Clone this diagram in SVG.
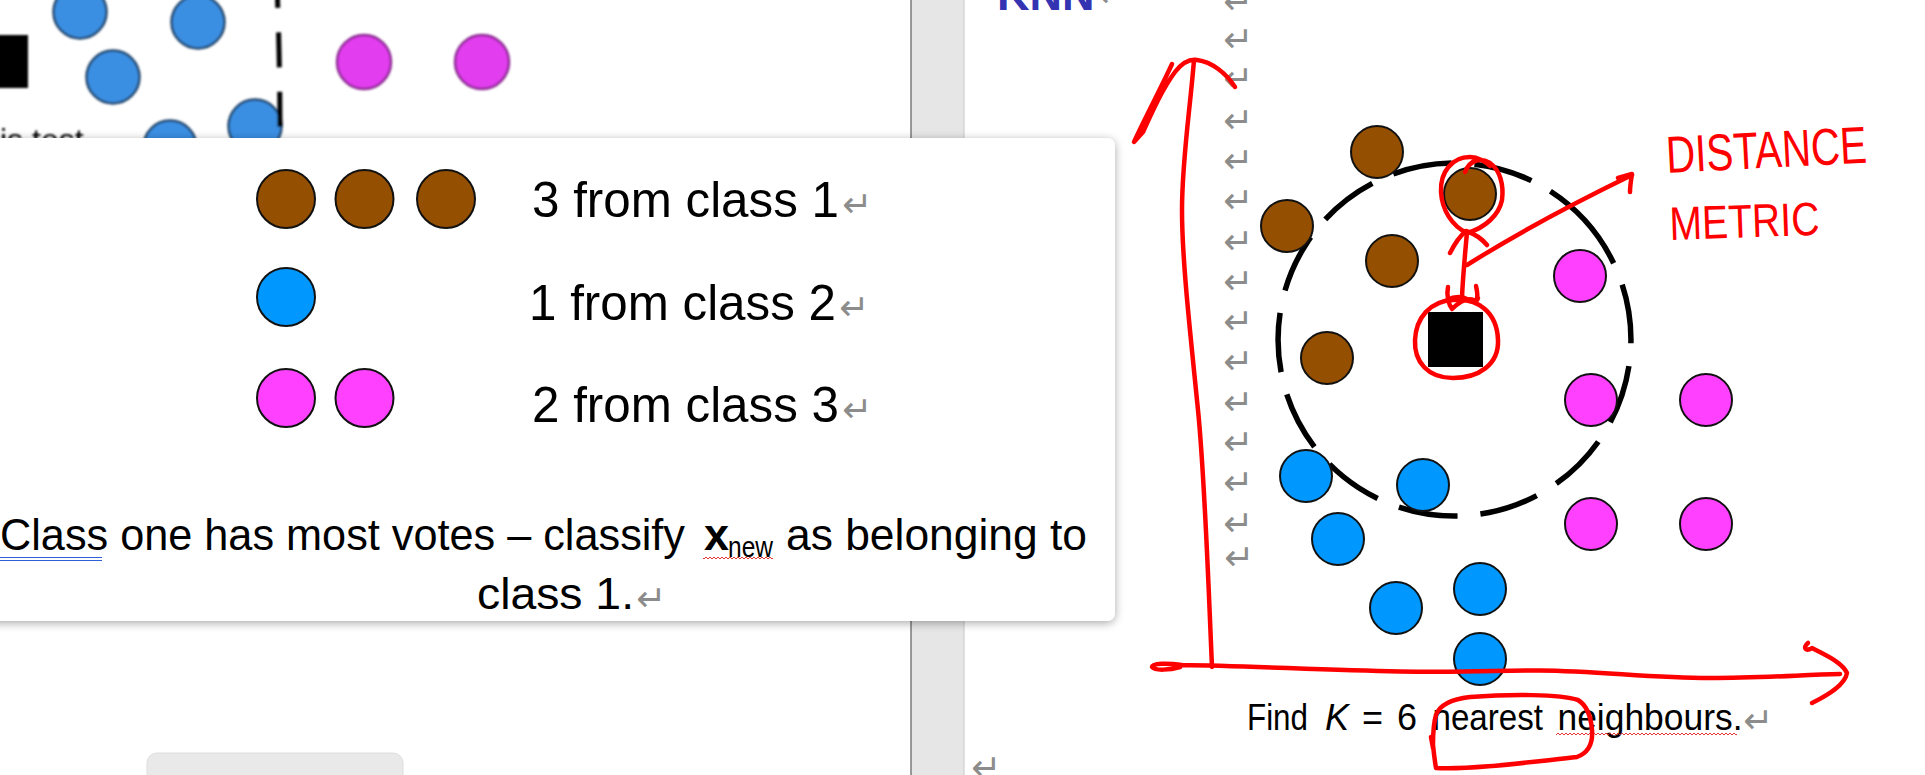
<svg xmlns="http://www.w3.org/2000/svg" width="1925" height="775" viewBox="0 0 1925 775">
<defs>
<filter id="soft" x="-10%" y="-10%" width="120%" height="120%"><feGaussianBlur stdDeviation="0.9"/></filter>
<filter id="shadow" x="-5%" y="-10%" width="110%" height="125%">
<feGaussianBlur in="SourceAlpha" stdDeviation="5"/><feOffset dx="0" dy="2"/>
<feComponentTransfer><feFuncA type="linear" slope="0.35"/></feComponentTransfer>
<feMerge><feMergeNode/><feMergeNode in="SourceGraphic"/></feMerge></filter>
<pattern id="wavy" width="4" height="4" patternUnits="userSpaceOnUse"><path d="M0,3 L2,1 L4,3" fill="none" stroke="#e02020" stroke-width="0.9"/></pattern>
</defs>
<style>
.txt{font-family:"Liberation Sans",Arial,sans-serif;fill:#000}
.pm{font-family:"DejaVu Sans",sans-serif;fill:#8c8c8c;font-size:36px}
.brown{fill:#954f00;stroke:#111;stroke-width:2}
.blue{fill:#0098fe;stroke:#111;stroke-width:2}
.mag{fill:#ff41ff;stroke:#111;stroke-width:2}
.oblue{fill:#3b8fe3;stroke:#23466d;stroke-width:2.5}
.omag{fill:#e23cef;stroke:#8c2c93;stroke-width:2.5}
.red{fill:none;stroke:#ff0000;stroke-width:4.5;stroke-linecap:round;stroke-linejoin:round}
.hand{font-family:"Liberation Sans",Arial,sans-serif;fill:#ff0000}
</style>
<rect x="0" y="0" width="1925" height="775" fill="#ffffff"/>

<!-- slide behind popup (top-left, blurred) -->
<g id="behind-slide" filter="url(#soft)">
<circle class="oblue" cx="80" cy="12" r="26.5"/>
<circle class="oblue" cx="198" cy="22" r="26.5"/>
<circle class="oblue" cx="113" cy="77" r="26.5"/>
<circle class="oblue" cx="255" cy="126" r="26.5"/>
<circle class="oblue" cx="170" cy="147" r="26.5"/>
<rect x="-5" y="35" width="33" height="53" fill="#000"/>
<path d="M276.5,-27 Q280,55 280,140" fill="none" stroke="#000" stroke-width="5" stroke-dasharray="35 24.5"/>
<circle class="omag" cx="364" cy="62" r="27"/>
<circle class="omag" cx="482" cy="62" r="27"/>
<text class="txt" x="0" y="151" font-size="32">is test</text>
</g>

<!-- window gray band -->
<g id="window-band">
<rect x="911" y="0" width="53" height="775" fill="#e6e6e6"/>
<line x1="911" y1="0" x2="911" y2="775" stroke="#7a7a7a" stroke-width="1.5"/>
<line x1="964" y1="0" x2="964" y2="775" stroke="#c8c8c8" stroke-width="1"/>
</g>

<!-- right document page -->
<g id="doc-heading">
<text x="997" y="10" font-family="Liberation Sans, Arial, sans-serif" font-weight="bold" font-size="45" fill="#3434b2">KNN</text>
<text class="pm" x="1097" y="7">↵</text>
</g>
<g id="paragraph-marks">
<text class="pm" x="1223" y="13.5">↵</text>
<text class="pm" x="1223" y="52">↵</text>
<text class="pm" x="1223" y="90.5">↵</text>
<text class="pm" x="1223" y="132.5">↵</text>
<text class="pm" x="1223" y="173">↵</text>
<text class="pm" x="1223" y="213">↵</text>
<text class="pm" x="1223" y="253.5">↵</text>
<text class="pm" x="1223" y="293.5">↵</text>
<text class="pm" x="1223" y="333.5">↵</text>
<text class="pm" x="1223" y="373.5">↵</text>
<text class="pm" x="1223" y="414.5">↵</text>
<text class="pm" x="1223" y="455">↵</text>
<text class="pm" x="1223" y="495">↵</text>
<text class="pm" x="1223" y="535.5">↵</text>
<text class="pm" x="1224" y="570" font-size="29">↵</text>
<text class="pm" x="971" y="780">↵</text>
</g>

<!-- dashed neighbourhood circle -->
<g id="neighbourhood">
<path d="M1550.4,191.3 A176.5,176.5 0 0 1 1358.6,487.7 A176.5,176.5 0 0 1 1550.4,191.3" fill="none" stroke="#000" stroke-width="5.5" stroke-dasharray="97 22.95 59.5 22.95 59.5 22.95 59.5 22.95 59.5 22.95 59.5 22.95 59.5 22.95 59.5 22.95 59.5 22.95 59.5 22.95 59.5 22.95 59.5 22.95 59.5 22.95"/>
</g>

<!-- data points -->
<g id="class1-points">
<circle class="brown" cx="1377" cy="152" r="26"/>
<circle class="brown" cx="1287" cy="226" r="26"/>
<circle class="brown" cx="1470" cy="194" r="26"/>
<circle class="brown" cx="1392" cy="261" r="26"/>
<circle class="brown" cx="1327" cy="358" r="26"/>
</g>
<g id="class2-points">
<circle class="blue" cx="1306" cy="476" r="26"/>
<circle class="blue" cx="1423" cy="485" r="26"/>
<circle class="blue" cx="1338" cy="539" r="26"/>
<circle class="blue" cx="1396" cy="608" r="26"/>
<circle class="blue" cx="1480" cy="589" r="26"/>
<circle class="blue" cx="1480" cy="659" r="26"/>
</g>
<g id="class3-points">
<circle class="mag" cx="1580" cy="276" r="26"/>
<circle class="mag" cx="1591" cy="400" r="26"/>
<circle class="mag" cx="1706" cy="400" r="26"/>
<circle class="mag" cx="1591" cy="524" r="26"/>
<circle class="mag" cx="1706" cy="524" r="26"/>
</g>
<g id="x-new">
<rect x="1428" y="312" width="55" height="55" fill="#000"/>
</g>

<!-- caption -->
<g id="caption-right">
<text class="txt" font-size="36" y="730"><tspan x="1247" textLength="61" lengthAdjust="spacingAndGlyphs">Find</tspan><tspan x="1325" font-style="italic">K</tspan><tspan x="1362">=</tspan><tspan x="1397">6</tspan><tspan x="1432.5" textLength="110.5" lengthAdjust="spacingAndGlyphs">nearest</tspan><tspan x="1557.5" textLength="185" lengthAdjust="spacingAndGlyphs">neighbours.</tspan></text>
<text class="pm" x="1743" y="733" font-size="40">↵</text>
<rect x="1556" y="733" width="181" height="4" fill="url(#wavy)"/>
</g>

<!-- red hand annotations -->
<g id="annotations">
<path class="red" d="M1212,667 C1209,600 1205,480 1198,410 C1190,330 1182,260 1182,210 C1182,160 1190,110 1194,60"/>
<path class="red" d="M1172,64 C1160,90 1145,118 1134,142 L1143,132 C1153,110 1163,88 1175,72 C1182,63 1190,59 1197,60 C1212,62 1226,73 1235,87"/>
<path class="red" d="M1180,667 C1170,670 1155,671 1152,667 C1152,663 1168,663 1182,665 C1250,666 1320,670 1400,671.5 C1470,673 1500,670 1540,670.5 C1600,671 1650,678 1710,678 C1760,678 1800,675 1840,674"/>
<path class="red" d="M1808,643 C1802,648 1806,652 1812,648 C1825,655 1842,662 1847,673 C1845,685 1828,695 1812,703"/>
<path class="red" stroke-width="3.5" d="M1465,172 C1470,160 1480,157 1490,163 C1500,170 1504,185 1502,200 C1499,215 1485,228 1467,233 C1452,226 1442,210 1441,192 C1440,172 1452,157 1470,157 C1478,157 1486,162 1490,166"/>
<path class="red" stroke-width="3.5" d="M1450,253 C1455,243 1460,236 1466,231 C1475,234 1482,239 1487,245"/>
<path class="red" stroke-width="3.5" d="M1467,232 C1465,255 1463,275 1462,297"/>
<path class="red" stroke-width="3" d="M1448,287 C1446,296 1449,305 1452,309 C1458,303 1466,297 1474,300 C1478,303 1478,295 1476,286 M1447,300 C1455,296 1462,296 1469,300 C1472,303 1477,302 1478,298"/>
<path class="red" stroke-width="3.5" d="M1453,300 C1478,298 1497,312 1498,340 C1499,365 1478,378 1453,378 C1428,378 1414,362 1415,340 C1416,318 1430,301 1453,300 Z"/>
<path class="red" stroke-width="3.5" d="M1467,265 C1510,238 1570,205 1632,175 M1618,178 L1632,174 C1631,180 1630,186 1630,192"/>
<path class="red" stroke-width="6" d="M1431,737 L1433,748 M1436,768 C1470,770 1530,762 1577,757 C1590,752 1593,742 1592,730 C1591,718 1588,706 1578,700 C1560,694 1510,694 1470,697 C1452,699 1440,704 1436,715 C1433,725 1433,735 1433,745 C1434,755 1435,762 1436,768"/>
<text class="hand" x="1667" y="173" font-size="52" textLength="201" lengthAdjust="spacingAndGlyphs" transform="rotate(-3 1667 173)">DISTANCE</text>
<text class="hand" x="1670" y="240" font-size="47" textLength="150" lengthAdjust="spacingAndGlyphs" transform="rotate(-2 1670 240)">METRIC</text>
</g>

<!-- popup slide -->
<g id="popup">
<rect x="-20" y="138" width="1135" height="483" rx="8" fill="#ffffff" filter="url(#shadow)"/>
</g>
<g id="legend-class1">
<circle class="brown" cx="286" cy="199" r="29"/>
<circle class="brown" cx="364.5" cy="199" r="29"/>
<circle class="brown" cx="446" cy="199" r="29"/>
<text class="txt" x="532" y="217" font-size="50" textLength="307" lengthAdjust="spacingAndGlyphs">3 from class 1</text>
<text class="pm" x="842" y="217" font-size="50">↵</text>
</g>
<g id="legend-class2">
<circle class="blue" cx="286" cy="297" r="29"/>
<text class="txt" x="529" y="320" font-size="50" textLength="307" lengthAdjust="spacingAndGlyphs">1 from class 2</text>
<text class="pm" x="839" y="320" font-size="50">↵</text>
</g>
<g id="legend-class3">
<circle class="mag" cx="286" cy="398" r="29"/>
<circle class="mag" cx="364.5" cy="398" r="29"/>
<text class="txt" x="532" y="422" font-size="50" textLength="307" lengthAdjust="spacingAndGlyphs">2 from class 3</text>
<text class="pm" x="842" y="422" font-size="50">↵</text>
</g>
<g id="caption-left">
<text class="txt" x="0" y="550" font-size="45" textLength="685" lengthAdjust="spacingAndGlyphs">Class one has most votes – classify</text>
<text class="txt" x="704" y="550" font-size="45" font-weight="bold">x</text>
<text class="txt" x="728" y="557" font-size="29" textLength="45" lengthAdjust="spacingAndGlyphs">new</text>
<text class="txt" x="786" y="550" font-size="45" textLength="301" lengthAdjust="spacingAndGlyphs">as belonging to</text>
<text class="txt" x="477" y="608.5" font-size="45" textLength="157" lengthAdjust="spacingAndGlyphs">class 1.</text>
<text class="pm" x="636" y="611" font-size="48">↵</text>
<line x1="0" y1="557.5" x2="102" y2="557.5" stroke="#2f5fd8" stroke-width="1.2"/>
<line x1="0" y1="560.5" x2="102" y2="560.5" stroke="#2f5fd8" stroke-width="1.2"/>
<rect x="703" y="555" width="70" height="4" fill="url(#wavy)"/>
</g>

<g id="bottom-button">
<rect x="147" y="753" width="256" height="40" rx="10" fill="#e9e9e9" stroke="#dddddd" stroke-width="1"/>
</g>
</svg>
